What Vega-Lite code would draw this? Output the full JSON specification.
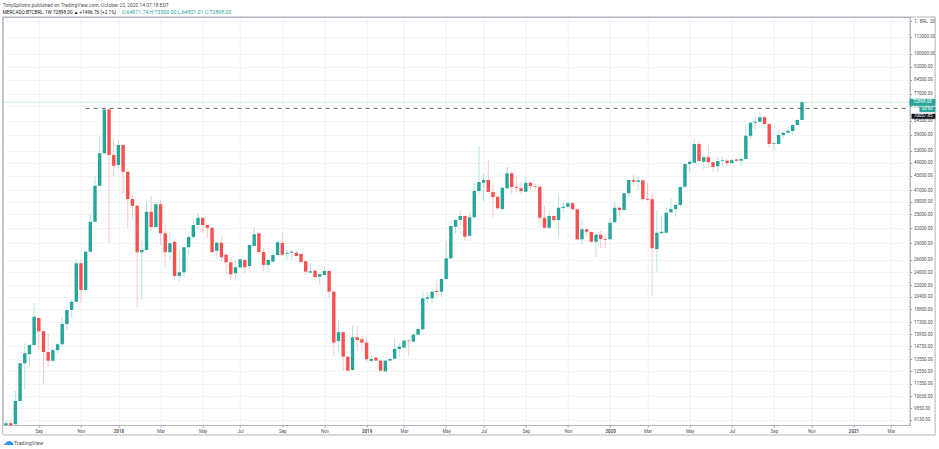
{
  "$schema": "https://vega.github.io/schema/vega-lite/v6.json",
  "autosize": "none",
  "width": 907,
  "height": 408,
  "padding": {"left": 2.7, "top": 17, "right": 29.3, "bottom": 24},
  "background": "white",
  "title": {
    "text": "TonySpilotro published on TradingView.com, October 22, 2020 14:07:18 EDT",
    "subtitle": "MERCADO:BTCBRL, 1W 72898.00 ▲ +1496.76 (+2.1%)",
    "anchor": "start",
    "frame": "group",
    "fontSize": 4.95,
    "fontWeight": "normal",
    "color": "#50535e",
    "subtitleFontSize": 4.7,
    "subtitleColor": "#131722",
    "subtitlePadding": 1.5,
    "offset": -5.5
  },
  "config": {
    "font": "Roboto",
    "view": {"stroke": "#b2b5be", "strokeWidth": 1},
    "axis": {"labelOverlap": false, "labelFlush": false}
  },
  "resolve": {"axis": {"x": "independent"}},
  "datasets": {
    "candles": [
      {"t":"2017-07-17","o":8825,"h":9115,"l":8796,"c":8924},
      {"t":"2017-07-24","o":8924,"h":9115,"l":8796,"c":8825},
      {"t":"2017-07-31","o":8866,"h":11022,"l":8825,"c":10323},
      {"t":"2017-08-07","o":10323,"h":13241,"l":10290,"c":13215},
      {"t":"2017-08-14","o":13215,"h":15064,"l":11159,"c":14108},
      {"t":"2017-08-21","o":14016,"h":14950,"l":12983,"c":14897},
      {"t":"2017-08-28","o":14897,"h":19569,"l":14850,"c":17921},
      {"t":"2017-09-04","o":17765,"h":17850,"l":14412,"c":16291},
      {"t":"2017-09-11","o":16291,"h":16355,"l":11539,"c":14228},
      {"t":"2017-09-18","o":14228,"h":16008,"l":12923,"c":13439},
      {"t":"2017-09-25","o":13439,"h":14480,"l":13353,"c":14412},
      {"t":"2017-10-02","o":14412,"h":15064,"l":14044,"c":14966},
      {"t":"2017-10-09","o":14966,"h":17849,"l":14672,"c":17091},
      {"t":"2017-10-16","o":17091,"h":18967,"l":16428,"c":18725},
      {"t":"2017-10-23","o":18725,"h":20110,"l":17729,"c":19773},
      {"t":"2017-10-30","o":19773,"h":25973,"l":19671,"c":25425},
      {"t":"2017-11-06","o":25425,"h":25973,"l":19607,"c":21343},
      {"t":"2017-11-13","o":21343,"h":27500,"l":21110,"c":27427},
      {"t":"2017-11-20","o":27427,"h":35036,"l":27250,"c":33379},
      {"t":"2017-11-27","o":33379,"h":44800,"l":33033,"c":42243},
      {"t":"2017-12-04","o":42243,"h":58205,"l":41962,"c":52227},
      {"t":"2017-12-11","o":52227,"h":70057,"l":51885,"c":69500},
      {"t":"2017-12-18","o":69500,"h":70057,"l":28979,"c":51646},
      {"t":"2017-12-25","o":51646,"h":57581,"l":45010,"c":48152},
      {"t":"2018-01-01","o":48376,"h":56965,"l":47320,"c":55140},
      {"t":"2018-01-08","o":55140,"h":55395,"l":39936,"c":46300},
      {"t":"2018-01-15","o":46300,"h":47320,"l":32083,"c":38700},
      {"t":"2018-01-22","o":38700,"h":39752,"l":33681,"c":37057},
      {"t":"2018-01-29","o":37057,"h":37230,"l":19005,"c":27321},
      {"t":"2018-02-05","o":27321,"h":29606,"l":19991,"c":27730},
      {"t":"2018-02-12","o":27730,"h":38045,"l":27605,"c":35636},
      {"t":"2018-02-19","o":35636,"h":39489,"l":31405,"c":32234},
      {"t":"2018-02-26","o":32234,"h":37897,"l":32018,"c":37403},
      {"t":"2018-03-05","o":37403,"h":38465,"l":28656,"c":30938},
      {"t":"2018-03-12","o":30938,"h":32666,"l":24695,"c":27321},
      {"t":"2018-03-19","o":27321,"h":30938,"l":25973,"c":28979},
      {"t":"2018-03-26","o":29283,"h":29416,"l":23127,"c":23392},
      {"t":"2018-04-02","o":23392,"h":27552,"l":22539,"c":23969},
      {"t":"2018-04-09","o":23969,"h":28333,"l":23127,"c":28219},
      {"t":"2018-04-16","o":28219,"h":30593,"l":26840,"c":30187},
      {"t":"2018-04-23","o":30187,"h":33950,"l":29922,"c":32666},
      {"t":"2018-04-30","o":32666,"h":35336,"l":31802,"c":34250},
      {"t":"2018-05-07","o":34250,"h":34300,"l":31000,"c":32666},
      {"t":"2018-05-14","o":32666,"h":32750,"l":29922,"c":32083},
      {"t":"2018-05-21","o":32083,"h":32150,"l":27250,"c":27374},
      {"t":"2018-05-28","o":27605,"h":29283,"l":26253,"c":29093},
      {"t":"2018-06-04","o":29093,"h":30390,"l":25691,"c":26431},
      {"t":"2018-06-11","o":26894,"h":27000,"l":23704,"c":25591},
      {"t":"2018-06-18","o":25591,"h":26431,"l":22787,"c":23657},
      {"t":"2018-06-25","o":23813,"h":25973,"l":22685,"c":24761},
      {"t":"2018-07-02","o":24761,"h":26200,"l":24600,"c":26075},
      {"t":"2018-07-09","o":25973,"h":26100,"l":23813,"c":24761},
      {"t":"2018-07-16","o":24977,"h":28700,"l":24484,"c":28656},
      {"t":"2018-07-23","o":28466,"h":32083,"l":28400,"c":30735},
      {"t":"2018-07-30","o":30938,"h":31000,"l":26840,"c":27374},
      {"t":"2018-08-06","o":27374,"h":28029,"l":24063,"c":25143},
      {"t":"2018-08-13","o":25143,"h":26050,"l":24063,"c":25973},
      {"t":"2018-08-20","o":25691,"h":27605,"l":25600,"c":26840},
      {"t":"2018-08-27","o":26840,"h":29300,"l":26750,"c":29169},
      {"t":"2018-09-03","o":29036,"h":31060,"l":26662,"c":26894},
      {"t":"2018-09-10","o":27072,"h":27730,"l":26075,"c":27250},
      {"t":"2018-09-17","o":27250,"h":27730,"l":25973,"c":27427},
      {"t":"2018-09-24","o":27250,"h":27605,"l":26600,"c":26662},
      {"t":"2018-10-01","o":27018,"h":27100,"l":25550,"c":25641},
      {"t":"2018-10-08","o":25757,"h":25850,"l":23548,"c":24063},
      {"t":"2018-10-15","o":23907,"h":25425,"l":23850,"c":24125},
      {"t":"2018-10-22","o":24219,"h":24300,"l":23150,"c":23236},
      {"t":"2018-10-29","o":23283,"h":23907,"l":22203,"c":23657},
      {"t":"2018-11-05","o":23548,"h":24860,"l":23392,"c":24172},
      {"t":"2018-11-12","o":24172,"h":24250,"l":20247,"c":21110},
      {"t":"2018-11-19","o":21110,"h":21200,"l":13860,"c":15122},
      {"t":"2018-11-26","o":15289,"h":17461,"l":14256,"c":16187},
      {"t":"2018-12-03","o":16187,"h":16250,"l":12587,"c":13796},
      {"t":"2018-12-10","o":13796,"h":13850,"l":12560,"c":12587},
      {"t":"2018-12-17","o":12644,"h":16979,"l":12587,"c":15662},
      {"t":"2018-12-24","o":15662,"h":16979,"l":14320,"c":15387},
      {"t":"2018-12-31","o":15455,"h":15798,"l":14256,"c":15122},
      {"t":"2019-01-07","o":15122,"h":15556,"l":13267,"c":13563},
      {"t":"2019-01-14","o":13413,"h":13860,"l":13301,"c":13584},
      {"t":"2019-01-21","o":13704,"h":13750,"l":13400,"c":13439},
      {"t":"2019-01-28","o":13439,"h":13500,"l":12506,"c":12587},
      {"t":"2019-02-04","o":12539,"h":13500,"l":12482,"c":13439},
      {"t":"2019-02-11","o":13439,"h":13646,"l":13387,"c":13584},
      {"t":"2019-02-18","o":13612,"h":15514,"l":13563,"c":14510},
      {"t":"2019-02-25","o":14510,"h":15064,"l":13796,"c":14730},
      {"t":"2019-03-04","o":14633,"h":15455,"l":14580,"c":15318},
      {"t":"2019-03-11","o":15318,"h":15455,"l":13860,"c":15260},
      {"t":"2019-03-18","o":15220,"h":16250,"l":15180,"c":15934},
      {"t":"2019-03-25","o":15934,"h":16650,"l":15880,"c":16531},
      {"t":"2019-04-01","o":16497,"h":21110,"l":16428,"c":20206},
      {"t":"2019-04-08","o":20151,"h":21110,"l":19607,"c":20343},
      {"t":"2019-04-15","o":20206,"h":21250,"l":19645,"c":21110},
      {"t":"2019-04-22","o":21206,"h":22787,"l":20425,"c":21069},
      {"t":"2019-04-29","o":21110,"h":23000,"l":20425,"c":22924},
      {"t":"2019-05-06","o":22924,"h":29283,"l":22787,"c":26253},
      {"t":"2019-05-13","o":26253,"h":32600,"l":26128,"c":32450},
      {"t":"2019-05-20","o":32299,"h":33897,"l":30938,"c":33746},
      {"t":"2019-05-27","o":33746,"h":36029,"l":32666,"c":34643},
      {"t":"2019-06-03","o":34643,"h":34750,"l":29473,"c":30248},
      {"t":"2019-06-10","o":30451,"h":35405,"l":30300,"c":34343},
      {"t":"2019-06-17","o":34343,"h":42918,"l":34110,"c":40804},
      {"t":"2019-06-24","o":40804,"h":54775,"l":39936,"c":43283},
      {"t":"2019-07-01","o":43086,"h":45820,"l":38045,"c":43845},
      {"t":"2019-07-08","o":43845,"h":49752,"l":40400,"c":40541},
      {"t":"2019-07-15","o":40541,"h":42440,"l":34343,"c":39226},
      {"t":"2019-07-22","o":39306,"h":39400,"l":36029,"c":36415},
      {"t":"2019-07-29","o":36242,"h":41850,"l":36029,"c":41681},
      {"t":"2019-08-05","o":41513,"h":47832,"l":41242,"c":45820},
      {"t":"2019-08-12","o":45820,"h":46600,"l":40015,"c":41878},
      {"t":"2019-08-19","o":41962,"h":44800,"l":40357,"c":41681},
      {"t":"2019-08-26","o":41513,"h":43367,"l":39936,"c":40804},
      {"t":"2019-09-02","o":40620,"h":44800,"l":40462,"c":43086},
      {"t":"2019-09-09","o":43086,"h":43200,"l":41067,"c":42159},
      {"t":"2019-09-16","o":42159,"h":42721,"l":40883,"c":41962},
      {"t":"2019-09-23","o":41962,"h":42200,"l":32450,"c":34250},
      {"t":"2019-09-30","o":34250,"h":36983,"l":31950,"c":32083},
      {"t":"2019-10-07","o":32083,"h":35867,"l":31750,"c":34643},
      {"t":"2019-10-14","o":34643,"h":34800,"l":33163,"c":33746},
      {"t":"2019-10-21","o":33746,"h":39752,"l":30150,"c":36563},
      {"t":"2019-10-28","o":36489,"h":37798,"l":35405,"c":36810},
      {"t":"2019-11-04","o":36810,"h":38045,"l":36415,"c":37650},
      {"t":"2019-11-11","o":37650,"h":38000,"l":35867,"c":36192},
      {"t":"2019-11-18","o":36192,"h":36400,"l":29606,"c":29750},
      {"t":"2019-11-25","o":29750,"h":33379,"l":28846,"c":31750},
      {"t":"2019-12-02","o":31750,"h":31850,"l":30390,"c":31263},
      {"t":"2019-12-09","o":31202,"h":31300,"l":29000,"c":29283},
      {"t":"2019-12-16","o":29283,"h":30800,"l":26431,"c":30654},
      {"t":"2019-12-23","o":30654,"h":31466,"l":28029,"c":29781},
      {"t":"2019-12-30","o":29781,"h":30451,"l":28029,"c":29667},
      {"t":"2020-01-06","o":29750,"h":34110,"l":29600,"c":33163},
      {"t":"2020-01-13","o":33249,"h":38045,"l":33100,"c":36563},
      {"t":"2020-01-20","o":36563,"h":36800,"l":34480,"c":36029},
      {"t":"2020-01-27","o":36029,"h":40300,"l":35900,"c":40199},
      {"t":"2020-02-03","o":40199,"h":44000,"l":38884,"c":43845},
      {"t":"2020-02-10","o":43845,"h":45400,"l":42159,"c":43367},
      {"t":"2020-02-17","o":43367,"h":45010,"l":41067,"c":43760},
      {"t":"2020-02-24","o":43760,"h":44000,"l":38292,"c":38700},
      {"t":"2020-03-02","o":38779,"h":43086,"l":38300,"c":38527},
      {"t":"2020-03-09","o":38620,"h":40357,"l":20521,"c":28029},
      {"t":"2020-03-16","o":27916,"h":35867,"l":24063,"c":31060},
      {"t":"2020-03-23","o":30938,"h":34643,"l":30800,"c":31263},
      {"t":"2020-03-30","o":31060,"h":36662,"l":30938,"c":35405},
      {"t":"2020-04-06","o":35498,"h":38884,"l":35300,"c":36242},
      {"t":"2020-04-13","o":36242,"h":37500,"l":34480,"c":37230},
      {"t":"2020-04-20","o":37230,"h":42440,"l":36415,"c":41878},
      {"t":"2020-04-27","o":41962,"h":48900,"l":41794,"c":48696},
      {"t":"2020-05-04","o":48696,"h":49700,"l":46120,"c":49432},
      {"t":"2020-05-11","o":49112,"h":57308,"l":48900,"c":55505},
      {"t":"2020-05-18","o":55505,"h":56345,"l":49240,"c":49656},
      {"t":"2020-05-25","o":49432,"h":51646,"l":47096,"c":50859},
      {"t":"2020-06-01","o":50859,"h":54885,"l":47512,"c":49240},
      {"t":"2020-06-08","o":49240,"h":49500,"l":46510,"c":47736},
      {"t":"2020-06-15","o":47960,"h":50722,"l":46120,"c":49656},
      {"t":"2020-06-22","o":49656,"h":51065,"l":48152,"c":49880},
      {"t":"2020-06-29","o":49752,"h":50337,"l":48152,"c":49016},
      {"t":"2020-07-06","o":49016,"h":50337,"l":48700,"c":49880},
      {"t":"2020-07-13","o":50150,"h":50337,"l":49432,"c":49752},
      {"t":"2020-07-20","o":49752,"h":51406,"l":48152,"c":50279},
      {"t":"2020-07-27","o":50279,"h":62555,"l":50080,"c":58595},
      {"t":"2020-08-03","o":58595,"h":64223,"l":57308,"c":63806},
      {"t":"2020-08-10","o":63806,"h":66343,"l":60818,"c":64223},
      {"t":"2020-08-17","o":64223,"h":67855,"l":64000,"c":66127},
      {"t":"2020-08-24","o":66127,"h":66653,"l":62847,"c":63264},
      {"t":"2020-08-31","o":63264,"h":63500,"l":54160,"c":55505},
      {"t":"2020-09-07","o":55505,"h":55870,"l":53117,"c":55760},
      {"t":"2020-09-14","o":55505,"h":60818,"l":55140,"c":58868},
      {"t":"2020-09-21","o":58868,"h":60155,"l":57815,"c":59765},
      {"t":"2020-09-28","o":59765,"h":61100,"l":59500,"c":60545},
      {"t":"2020-10-05","o":60428,"h":63264,"l":58868,"c":62847},
      {"t":"2020-10-12","o":62847,"h":65400,"l":62555,"c":64932},
      {"t":"2020-10-19","o":64971.74,"h":73500,"l":64801.01,"c":72898}
    ],
    "tags": [
      {"label":"72898.00","from":"2021-03-29","to":"2021-05-06","top":74498,"bottom":71305,"at":72898,"mid":"2021-04-17","fill":"#26a69a","ink":"#ffffff"},
      {"label":"3d 6h","from":"2021-04-13","to":"2021-05-06","top":70688,"bottom":68433,"at":69560,"mid":"2021-04-24","fill":"#26a69a","ink":"#ffffff"},
      {"label":"70057.85","from":"2021-04-01","to":"2021-05-06","top":67543,"bottom":65475,"at":66500,"mid":"2021-04-18","fill":"#131722","ink":"#ffffff"},
      {"label":"BRL","from":"2021-04-10","to":"2021-04-28","top":125750,"bottom":120360,"at":123000,"mid":"2021-04-19","fill":"#ffffff","ink":"#50535e"}
    ]
  },
  "layer": [
    {
      "data": {"name": "candles"},
      "mark": {"type": "rule", "strokeWidth": 1, "opacity": 0.32, "clip": true},
      "encoding": {
        "x": {
          "field": "t",
          "type": "temporal",
          "scale": {"domain": ["2017-07-12", "2021-03-29"], "padding": 0},
          "axis": {
            "orient": "bottom",
            "title": null,
            "values": ["2017-09-04","2017-11-06","2018-01-01","2018-03-05","2018-05-07","2018-07-02","2018-09-03","2018-11-05","2019-01-07","2019-03-04","2019-05-06","2019-07-01","2019-09-02","2019-11-04","2020-01-06","2020-03-02","2020-05-04","2020-07-06","2020-09-07","2020-11-02","2021-01-04","2021-03-01"],
            "labelExpr": "utcmonth(datum.value) === 0 ? utcFormat(datum.value, '%Y') : utcFormat(datum.value, '%b')",
            "labelFontWeight": {"condition": {"test": "utcmonth(datum.value) === 0", "value": "bold"}, "value": "normal"},
            "labelColor": "#50535e",
            "labelFontSize": 4.5,
            "labelPadding": 1.5,
            "tickSize": 2,
            "tickColor": "#9598a1",
            "domainColor": "#b2b5be",
            "grid": true,
            "gridColor": "#e8f1f5",
            "gridWidth": 0.8
          }
        },
        "y": {
          "field": "l",
          "type": "quantitative",
          "scale": {"type": "log", "domain": [8819, 127400], "nice": false, "zero": false},
          "axis": {
            "orient": "right",
            "title": null,
            "values": [124000,112000,100000,92000,84500,77000,71000,64500,59000,53000,49000,45000,41000,38000,35000,32000,29000,26000,24000,22000,20400,18800,17300,15950,14750,13550,12550,11550,10650,9850,9130],
            "format": ".2f",
            "labelColor": "#50535e",
            "labelFontSize": 4.5,
            "labelPadding": 1.7,
            "tickSize": 2,
            "tickColor": "#9598a1",
            "domainColor": "#b2b5be",
            "grid": true,
            "gridColor": "#edf4f7",
            "gridWidth": 0.8
          }
        },
        "y2": {"field": "h"},
        "color": {"condition": {"test": "datum.c >= datum.o", "value": "#26a69a"}, "value": "#f7504f"}
      }
    },
    {
      "data": {"name": "candles"},
      "mark": {"type": "bar", "size": 3.4, "clip": true},
      "encoding": {
        "x": {
          "field": "t",
          "type": "temporal",
          "scale": {"domain": ["2017-07-12", "2021-03-29"], "padding": 0},
          "axis": {
            "orient": "top",
            "values": [],
            "domain": false,
            "ticks": false,
            "labels": false,
            "grid": false,
            "title": "O:64971.74   H:73500.00   L:64801.01   C:72898.00",
            "titleFontSize": 5.2,
            "titleFontWeight": "normal",
            "titleColor": "#26a69a",
            "titleAnchor": "start",
            "titleAlign": "left",
            "titleBaseline": "middle",
            "titleX": 118.5,
            "titleY": -6
          }
        },
        "y": {
          "field": "o",
          "type": "quantitative",
          "scale": {"type": "log", "domain": [8819, 127400], "nice": false, "zero": false}
        },
        "y2": {"field": "c"},
        "color": {"condition": {"test": "datum.c >= datum.o", "value": "#26a69a"}, "value": "#f7504f"}
      }
    },
    {
      "data": {"values": [{"level": 70057.85, "from": "2017-11-13", "to": "2021-03-29"}]},
      "mark": {"type": "rule", "color": "#50535e", "strokeWidth": 0.9, "strokeDash": [4, 4]},
      "encoding": {
        "x": {
          "field": "from",
          "type": "temporal",
          "scale": {"domain": ["2017-07-12", "2021-03-29"], "padding": 0},
          "axis": {
            "orient": "bottom",
            "values": [],
            "domain": false,
            "ticks": false,
            "labels": false,
            "grid": false,
            "title": "TradingView",
            "titleFontSize": 5.4,
            "titleFontWeight": "normal",
            "titleColor": "#50535e",
            "titleAnchor": "start",
            "titleAlign": "left",
            "titleBaseline": "middle",
            "titleX": 10.5,
            "titleY": 17.5
          }
        },
        "x2": {"field": "to"},
        "y": {
          "field": "level",
          "type": "quantitative",
          "scale": {"type": "log", "domain": [8819, 127400], "nice": false, "zero": false}
        }
      }
    },
    {
      "data": {"values": [{"last": 72898}]},
      "mark": {"type": "rule", "color": "#26a69a", "strokeWidth": 0.8, "opacity": 0.28},
      "encoding": {
        "y": {
          "field": "last",
          "type": "quantitative",
          "scale": {"type": "log", "domain": [8819, 127400], "nice": false, "zero": false}
        }
      }
    },
    {
      "data": {"values": [{"from": "2017-07-12", "to": "2021-05-06", "top": 127400, "bottom": 8260}]},
      "mark": {"type": "rect", "fill": null, "stroke": "#b2b5be", "strokeWidth": 1},
      "encoding": {
        "x": {
          "field": "from",
          "type": "temporal",
          "scale": {"domain": ["2017-07-12", "2021-03-29"], "padding": 0},
          "axis": {
            "orient": "bottom",
            "values": [],
            "domain": false,
            "ticks": false,
            "labels": false,
            "grid": false,
            "title": "☁",
            "titleFont": "DejaVu Sans",
            "titleFontSize": 11,
            "titleFontWeight": "normal",
            "titleColor": "#2196f3",
            "titleAnchor": "start",
            "titleAlign": "left",
            "titleBaseline": "middle",
            "titleX": -0.5,
            "titleY": 16.5
          }
        },
        "x2": {"field": "to"},
        "y": {
          "field": "top",
          "type": "quantitative",
          "scale": {"type": "log", "domain": [8819, 127400], "nice": false, "zero": false}
        },
        "y2": {"field": "bottom"}
      }
    },
    {
      "data": {"name": "tags"},
      "mark": {"type": "rect", "strokeWidth": 0.4},
      "encoding": {
        "x": {"field": "from", "type": "temporal", "scale": {"domain": ["2017-07-12", "2021-03-29"], "padding": 0}, "axis": null},
        "x2": {"field": "to"},
        "y": {
          "field": "top",
          "type": "quantitative",
          "scale": {"type": "log", "domain": [8819, 127400], "nice": false, "zero": false}
        },
        "y2": {"field": "bottom"},
        "fill": {"field": "fill", "type": "nominal", "scale": null},
        "stroke": {"field": "fill", "type": "nominal", "scale": null}
      }
    },
    {
      "data": {"name": "tags"},
      "mark": {"type": "text", "fontSize": 4.5, "align": "center", "baseline": "middle"},
      "encoding": {
        "x": {"field": "mid", "type": "temporal", "scale": {"domain": ["2017-07-12", "2021-03-29"], "padding": 0}, "axis": null},
        "y": {
          "field": "at",
          "type": "quantitative",
          "scale": {"type": "log", "domain": [8819, 127400], "nice": false, "zero": false}
        },
        "text": {"field": "label", "type": "nominal"},
        "color": {"field": "ink", "type": "nominal", "scale": null}
      }
    }
  ]
}
